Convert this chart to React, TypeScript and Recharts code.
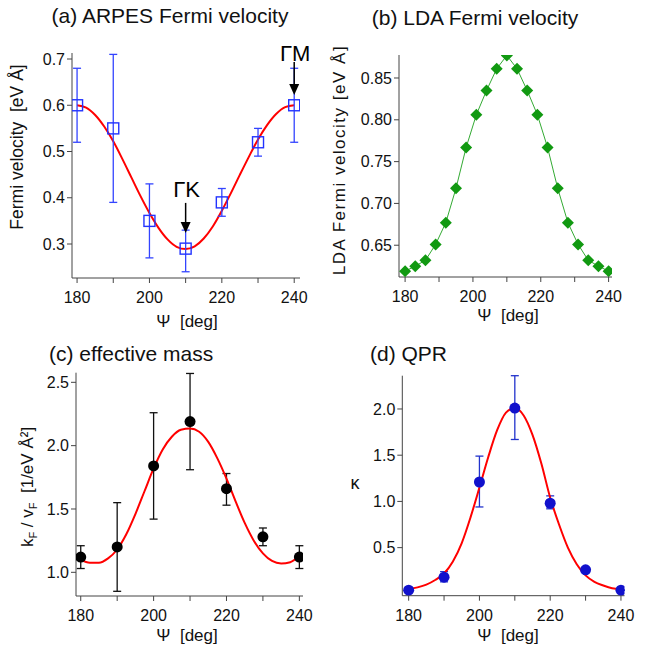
import React from "react";
import {
  ComposedChart,
  Line,
  Scatter,
  ErrorBar,
  XAxis,
  YAxis,
  ReferenceDot,
} from "recharts";

const FONT = '"Liberation Sans", Arial, Helvetica, sans-serif';

// shared angle axis
const psiTicks = [180, 190, 200, 210, 220, 230, 240];

// (a) ARPES Fermi velocity
const aPsi = [180, 190, 200, 210, 220, 230, 240];
const aVel = [0.6, 0.55, 0.35, 0.29, 0.39, 0.52, 0.6];
const aLow = [0.52, 0.39, 0.27, 0.24, 0.36, 0.49, 0.52];
const aHigh = [0.68, 0.71, 0.43, 0.33, 0.42, 0.55, 0.68];
const aFitPsi = [180, 182.5, 185, 187.5, 190, 192.5, 195, 197.5, 200, 202.5, 205, 207.5, 210, 212.5, 215, 217.5, 220, 222.5, 225, 227.5, 230, 232.5, 235, 237.5, 240];
const aFitVel = [0.6, 0.595, 0.579, 0.554, 0.522, 0.484, 0.444, 0.404, 0.367, 0.335, 0.31, 0.294, 0.289, 0.295, 0.312, 0.338, 0.372, 0.41, 0.45, 0.489, 0.526, 0.557, 0.581, 0.596, 0.6];
const aTicks = [0.3, 0.4, 0.5, 0.6, 0.7];

// (b) LDA Fermi velocity
const bPsi = [180, 183, 186, 189, 192, 195, 198, 201, 204, 207, 210, 213, 216, 219, 222, 225, 228, 231, 234, 237, 240];
const bVel = [0.619, 0.625, 0.632, 0.651, 0.677, 0.718, 0.767, 0.806, 0.835, 0.861, 0.877, 0.861, 0.835, 0.806, 0.767, 0.718, 0.677, 0.651, 0.632, 0.625, 0.619];
const bTicks = [0.65, 0.7, 0.75, 0.8, 0.85];

// (c) effective mass
const cPsi = [180, 190, 200, 210, 220, 230, 240];
const cMass = [1.12, 1.2, 1.84, 2.19, 1.66, 1.28, 1.12];
const cLow = [1.03, 0.85, 1.42, 1.81, 1.53, 1.21, 1.03];
const cHigh = [1.21, 1.55, 2.26, 2.57, 1.78, 1.35, 1.21];
const cFitPsi = [180, 182.5, 185, 187.5, 190, 192.5, 195, 197.5, 200, 202.5, 205, 207.5, 210, 212.5, 215, 217.5, 220, 222.5, 225, 227.5, 230, 232.5, 235, 237.5, 240];
const cFitMass = [1.1, 1.075, 1.075, 1.11, 1.18, 1.3, 1.46, 1.64, 1.82, 1.97, 2.07, 2.125, 2.135, 2.11, 2.03, 1.9, 1.74, 1.56, 1.39, 1.25, 1.15, 1.09, 1.07, 1.08, 1.13];
const cTicks = [1.0, 1.5, 2.0, 2.5];

// (d) QPR
const dPsi = [180, 190, 200, 210, 220, 230, 240];
const dKappa = [0.04, 0.18, 1.21, 2.01, 0.98, 0.26, 0.04];
const dLow = [0.04, 0.13, 0.94, 1.67, 0.92, 0.26, 0.04];
const dHigh = [0.04, 0.24, 1.49, 2.36, 1.06, 0.26, 0.04];
const dFitPsi = [180, 182.5, 185, 187.5, 190, 192.5, 195, 197.5, 200, 202.5, 205, 207.5, 210, 212.5, 215, 217.5, 220, 222.5, 225, 227.5, 230, 232.5, 235, 237.5, 240];
const dFitKappa = [0.05, 0.07, 0.1, 0.15, 0.22, 0.35, 0.55, 0.83, 1.15, 1.48, 1.77, 1.96, 2.01, 1.93, 1.72, 1.41, 1.04, 0.75, 0.5, 0.32, 0.2, 0.13, 0.09, 0.06, 0.05];
const dTicks = [0.5, 1.0, 1.5, 2.0];

const withErr = (xs: number[], ys: number[], lo: number[], hi: number[]) =>
  xs.map((x, i) => ({ x, y: ys[i], err: [ys[i] - lo[i], hi[i] - ys[i]] }));
const pairs = (xs: number[], ys: number[]) => xs.map((x, i) => ({ x, y: ys[i] }));

const AXIS = "#444";
const tickStyle = { fill: "#111", fontSize: 16, fontFamily: FONT };
const Y_W = 50;
const X_H = 30;

function xAxis(domain: [number, number]) {
  return (
    <XAxis
      type="number"
      dataKey="x"
      domain={domain}
      ticks={psiTicks}
      allowDataOverflow
      height={X_H}
      tick={tickStyle}
      tickFormatter={(v: number) => (v % 20 === 0 ? String(v) : "")}
      tickSize={5}
      tickMargin={9}
      axisLine={{ stroke: AXIS }}
      tickLine={{ stroke: AXIS }}
      interval={0}
    />
  );
}

function yAxis(domain: [number, number], ticks: number[], digits: number) {
  return (
    <YAxis
      type="number"
      dataKey="y"
      domain={domain}
      ticks={ticks}
      allowDataOverflow
      width={Y_W}
      tick={tickStyle}
      tickFormatter={(v: number) => v.toFixed(digits)}
      tickSize={5}
      tickMargin={2}
      axisLine={{ stroke: AXIS }}
      tickLine={{ stroke: AXIS }}
      interval={0}
    />
  );
}

const Square = (p: any) => (
  <rect x={p.cx - 5.5} y={p.cy - 5.5} width={11} height={11} fill="none" stroke="#2233ff" strokeWidth={1.4} />
);
const Diamond = (p: any) => (
  <polygon
    key={p.index}
    points={`${p.cx},${p.cy - 6} ${p.cx + 6},${p.cy} ${p.cx},${p.cy + 6} ${p.cx - 6},${p.cy}`}
    fill="#119911"
  />
);
const Dot = (color: string) => (p: any) => <circle cx={p.cx} cy={p.cy} r={5.5} fill={color} />;

const Arrow = (label: string, lineFrom: number, textDy: number) => (p: any) => (
  <g>
    <line x1={p.cx} y1={p.cy - lineFrom} x2={p.cx} y2={p.cy - 10} stroke="#000" strokeWidth={1.5} />
    <polygon points={`${p.cx - 5},${p.cy - 11} ${p.cx + 5},${p.cy - 11} ${p.cx},${p.cy}`} fill="#000" />
    <text x={p.cx + 1} y={p.cy - textDy} textAnchor="middle" fontSize={22} fontFamily={FONT} fill="#000">
      {label}
    </text>
  </g>
);

// margins are the plot box offsets minus the axis sizes
function PanelA() {
  return (
    <ComposedChart width={325} height={330} margin={{ top: 53, left: 72 - Y_W, right: 25, bottom: 52 - X_H }}>
      {xAxis([178.6, 241.6])}
      {yAxis([0.2265, 0.713], aTicks, 1)}
      <Line data={pairs(aFitPsi, aFitVel)} dataKey="y" type="monotone" dot={false} stroke="#ff0000" strokeWidth={2} isAnimationActive={false} />
      <Scatter data={withErr(aPsi, aVel, aLow, aHigh)} dataKey="y" shape={Square} isAnimationActive={false}>
        <ErrorBar dataKey="err" direction="y" width={4} stroke="#3344ff" strokeWidth={1.3} />
      </Scatter>
      <ReferenceDot x={210} y={0.324} r={0} shape={Arrow("ΓK", 30, 36)} ifOverflow="visible" />
      <ReferenceDot x={240} y={0.622} r={0} shape={Arrow("ΓM", 33, 34)} ifOverflow="visible" />
    </ComposedChart>
  );
}

function PanelB() {
  return (
    <ComposedChart width={325} height={330} margin={{ top: 55, left: 74 - Y_W, right: 38, bottom: 53 - X_H }}>
      {xAxis([178.2, 241])}
      {yAxis([0.612, 0.8775], bTicks, 2)}
      <Line data={pairs(bPsi, bVel)} dataKey="y" type="linear" stroke="#33aa33" strokeWidth={1} dot={Diamond} isAnimationActive={false} />
    </ComposedChart>
  );
}

function PanelC() {
  return (
    <ComposedChart width={325} height={324} margin={{ top: 42.7, left: 76 - Y_W, right: 22, bottom: 58 - X_H }}>
      {xAxis([178.7, 241])}
      {yAxis([0.813, 2.576], cTicks, 1)}
      <Scatter data={withErr(cPsi, cMass, cLow, cHigh)} dataKey="y" shape={Dot("#000")} isAnimationActive={false}>
        <ErrorBar dataKey="err" direction="y" width={4} stroke="#111" strokeWidth={1.3} />
      </Scatter>
      <Line data={pairs(cFitPsi, cFitMass)} dataKey="y" type="monotone" dot={false} stroke="#ff0000" strokeWidth={2} isAnimationActive={false} />
    </ComposedChart>
  );
}

function PanelD() {
  return (
    <ComposedChart width={325} height={324} margin={{ top: 45.7, left: 77.3 - Y_W, right: 25.5, bottom: 58.3 - X_H }}>
      {xAxis([178.2, 241])}
      {yAxis([-0.02, 2.36], dTicks, 1)}
      <Scatter data={withErr(dPsi, dKappa, dLow, dHigh)} dataKey="y" shape={Dot("#1111cc")} isAnimationActive={false}>
        <ErrorBar dataKey="err" direction="y" width={4} stroke="#2233cc" strokeWidth={1.3} />
      </Scatter>
      <Line data={pairs(dFitPsi, dFitKappa)} dataKey="y" type="monotone" dot={false} stroke="#ff0000" strokeWidth={2} isAnimationActive={false} />
    </ComposedChart>
  );
}

const place = (left: number, top: number): React.CSSProperties => ({ position: "absolute", left, top });
const pre: React.CSSProperties = { whiteSpace: "pre" };

export default function App() {
  return (
    <div style={{ position: "absolute", left: 0, top: 0, width: 650, height: 654, background: "#fff", fontFamily: FONT }}>
      <div style={place(0, 0)}><PanelA /></div>
      <div style={place(325, 0)}><PanelB /></div>
      <div style={place(0, 330)}><PanelC /></div>
      <div style={place(325, 330)}><PanelD /></div>
      <svg width={650} height={654} style={{ position: "absolute", left: 0, top: 0, pointerEvents: "none" }} fontFamily={FONT} fill="#111">
        <text x={170} y={23} fontSize={21} textAnchor="middle">(a) ARPES Fermi velocity</text>
        <text x={475} y={25} fontSize={21} textAnchor="middle">(b) LDA Fermi velocity</text>
        <text x={49} y={361} fontSize={21}>(c) effective mass</text>
        <text x={370} y={361} fontSize={21}>(d) QPR</text>

        <text x={187} y={327} fontSize={17} textAnchor="middle" style={pre}>Ψ  [deg]</text>
        <text x={508} y={321} fontSize={17} textAnchor="middle" style={pre}>Ψ  [deg]</text>
        <text x={187} y={641} fontSize={17} textAnchor="middle" style={pre}>Ψ  [deg]</text>
        <text x={508} y={641} fontSize={17} textAnchor="middle" style={pre}>Ψ  [deg]</text>

        <text x={23} y={147} fontSize={17.5} textAnchor="middle" style={pre} transform="rotate(-90 23 147)">Fermi velocity  [eV Å]</text>
        <text x={345} y={160} fontSize={17} textAnchor="middle" letterSpacing={1.5} transform="rotate(-90 345 160)">LDA Fermi velocity [eV Å]</text>
        <text x={33} y={487} fontSize={17} textAnchor="middle" style={pre} transform="rotate(-90 33 487)">
          k<tspan fontSize={11} dy={4}>F</tspan>
          <tspan dy={-4}> / v</tspan>
          <tspan fontSize={11} dy={4}>F</tspan>
          <tspan dy={-4}>  [1/eV Å²]</tspan>
        </text>
        <text x={355} y={489} fontSize={18} textAnchor="middle">κ</text>
      </svg>
    </div>
  );
}
